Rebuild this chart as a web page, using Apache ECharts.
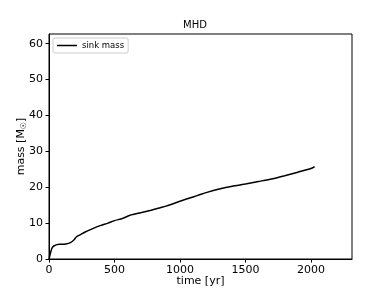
<!DOCTYPE html>
<html><head><meta charset="utf-8">
<script src="https://cdn.jsdelivr.net/npm/echarts@6/dist/echarts.min.js"></script>
<style>html,body{margin:0;padding:0;background:#fff}#c{width:390px;height:292px}</style>
</head><body><div id="c"></div>
<script>
const timeYr = [0, 10, 20, 30, 40, 60, 80, 100, 130, 160, 190, 210, 240, 280, 330, 390, 450, 500, 560, 620, 700, 780, 850, 900, 1000, 1100, 1150, 1200, 1300, 1400, 1500, 1600, 1700, 1800, 1900, 2000, 2028];
const sinkMass = [0, 1.5, 2.8, 3.4, 3.7, 4.0, 4.1, 4.1, 4.2, 4.5, 5.3, 6.2, 6.8, 7.6, 8.4, 9.3, 10.0, 10.7, 11.3, 12.2, 12.9, 13.6, 14.3, 14.8, 16.1, 17.3, 17.9, 18.5, 19.5, 20.3, 20.9, 21.6, 22.3, 23.2, 24.2, 25.2, 25.7];
const xTicks = [0, 500, 1000, 1500, 2000];
const yTicks = [0, 10, 20, 30, 40, 50, 60];

const font = 'DejaVu Sans';
const chart = echarts.init(document.getElementById('c'));
chart.setOption({
  animation: false,
  title: { text: 'MHD', left: 'center', top: 20.5, padding: 0, textStyle: { fontFamily: font, fontSize: 10, fontWeight: 'normal', color: '#000' } },
  legend: {
    left: 53, top: 38, padding: [3, 4], itemGap: 0, itemWidth: 20, itemHeight: 8,
    icon: 'path://M0,0 L20,0 L20,1.5 L0,1.5 Z',
    borderColor: '#ccc', borderWidth: 1, borderRadius: 2,
    textStyle: { fontFamily: font, fontSize: 8.5, color: '#000' },
    data: ['sink mass']
  },
  grid: { left: 49, right: 38, top: 34, bottom: 33, show: true, borderColor: '#000', borderWidth: 1, containLabel: false, outerBoundsMode: 'none' },
  xAxis: {
    type: 'value', min: 0, max: 2314,
    name: 'time [yr]', nameLocation: 'middle', nameGap: 16.5, nameMoveOverlap: false,
    nameTextStyle: { fontFamily: font, fontSize: 11, color: '#000' },
    axisLine: { onZero: false, lineStyle: { color: '#000' } },
    axisTick: { show: true, length: 3.5, customValues: xTicks, lineStyle: { color: '#000' } },
    axisLabel: { customValues: xTicks, formatter: v => String(v), fontFamily: font, fontSize: 11, color: '#000', margin: 6 },
    splitLine: { show: false }
  },
  yAxis: {
    type: 'value', min: 0, max: 62.7,
    name: 'mass [M{sub|☉}]', nameLocation: 'middle', nameGap: 21, nameMoveOverlap: false,
    nameTextStyle: { fontFamily: font, fontSize: 11, color: '#000',
      rich: { sub: { fontFamily: font, fontSize: 8, color: '#000', verticalAlign: 'bottom', padding: [6, 0, 0, 0] } } },
    axisLine: { show: true, onZero: false, lineStyle: { color: '#000' } },
    axisTick: { show: true, length: 3.5, customValues: yTicks, lineStyle: { color: '#000' } },
    axisLabel: { customValues: yTicks, formatter: v => String(v), fontFamily: font, fontSize: 11, color: '#000', margin: 6 },
    splitLine: { show: false }
  },
  series: [{
    name: 'sink mass', type: 'line', symbol: 'none', smooth: 0.2,
    lineStyle: { color: '#000', width: 1.5 }, itemStyle: { color: '#000' },
    data: timeYr.map((t, i) => [t, sinkMass[i]])
  }]
});
</script></body></html>
